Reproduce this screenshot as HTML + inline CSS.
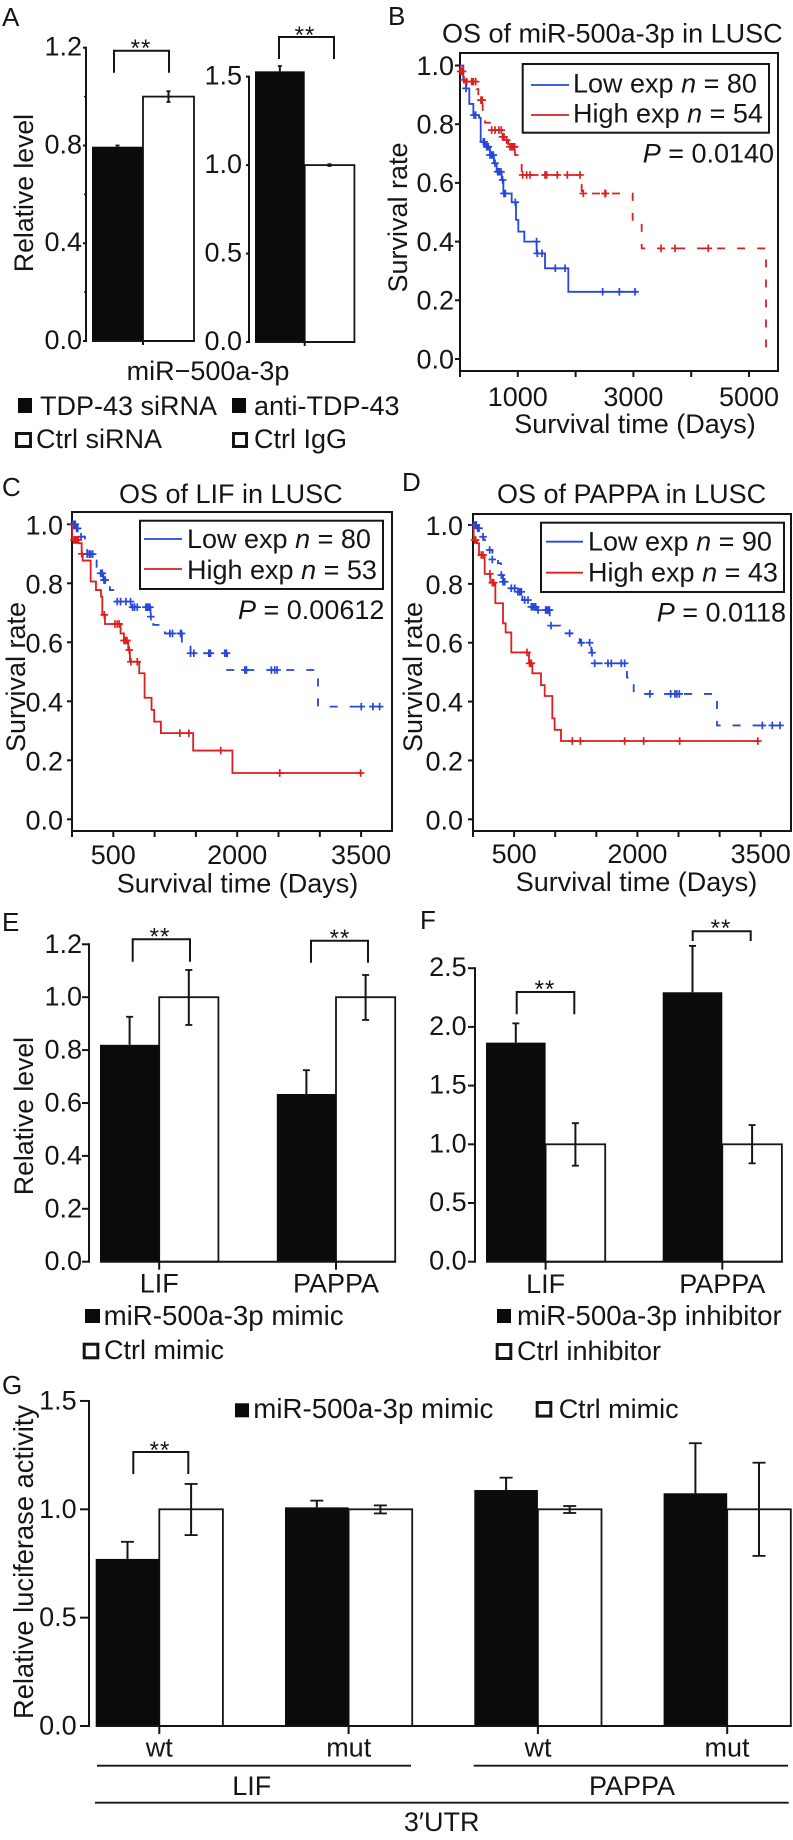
<!DOCTYPE html>
<html lang="en">
<head>
<meta charset="utf-8">
<title>Multi-panel figure: miR-500a-3p, LIF and PAPPA in LUSC</title>
<style>
html,body{margin:0;padding:0;background:#fff}
svg{display:block;font-family:"Liberation Sans",Arial,sans-serif;fill:#151515}
text{font-size:27px}
.lab{font-size:26px}
.wide{font-size:27.7px}
.big{font-size:27.3px}
</style>
</head>
<body>
<svg id="fig" xmlns="http://www.w3.org/2000/svg" width="793" height="1840" viewBox="0 0 793 1840">
<rect x="0" y="0" width="793" height="1840" fill="#fff"/>

<g>
<text class="lab" x="2" y="26">A</text>
<text class="lab" x="388" y="25">B</text>
<text class="lab" x="2" y="496">C</text>
<text class="lab" x="402" y="491">D</text>
<text class="lab" x="2" y="931">E</text>
<text class="lab" x="420" y="929">F</text>
<text class="lab" x="2" y="1394">G</text>
</g>

<g id="panelA">
<text transform="translate(33,193) rotate(-90)" text-anchor="middle" style="font-size:26.6px">Relative level</text>
<text x="208" y="380" text-anchor="middle">miR−500a-3p</text>
<rect x="18" y="398" width="14" height="15" fill="#0a0c0b"/>
<text x="40" y="415">TDP-43 siRNA</text>
<rect x="16.5" y="433.5" width="14" height="13" fill="#fff" stroke="#151515" stroke-width="3"/>
<text x="36" y="448">Ctrl siRNA</text>
<rect x="232" y="398" width="14" height="15" fill="#0a0c0b"/>
<text x="254" y="415">anti-TDP-43</text>
<rect x="233.5" y="433.5" width="13" height="13" fill="#fff" stroke="#151515" stroke-width="3"/>
<text x="254" y="448">Ctrl IgG</text>
</g>

<g id="panelB">
<text x="442" y="42.7">OS of miR-500a-3p in LUSC</text>
<text transform="translate(407,217.5) rotate(-90)" text-anchor="middle">Survival rate</text>
<text x="635" y="433" text-anchor="middle">Survival time (Days)</text>
</g>

<g id="panelC">
<text x="119" y="503">OS of LIF in LUSC</text>
<text transform="translate(25,677) rotate(-90)" text-anchor="middle">Survival rate</text>
<text x="237.5" y="892.7" text-anchor="middle">Survival time (Days)</text>
</g>

<g id="panelD">
<text x="497" y="503">OS of PAPPA in LUSC</text>
<text transform="translate(422,677) rotate(-90)" text-anchor="middle">Survival rate</text>
<text x="636.5" y="891" text-anchor="middle">Survival time (Days)</text>
</g>

<g id="panelE">
<text transform="translate(33,1116) rotate(-90)" text-anchor="middle" style="font-size:26.6px">Relative level</text>
<rect x="85" y="1309" width="15" height="14" fill="#0a0c0b"/>
<text class="wide" x="103.6" y="1325">miR-500a-3p mimic</text>
<rect x="84.2" y="1344.2" width="13.6" height="13.6" fill="#fff" stroke="#151515" stroke-width="3"/>
<text x="104" y="1359">Ctrl mimic</text>
</g>

<g id="panelF">
<rect x="497" y="1309" width="14" height="14" fill="#0a0c0b"/>
<text class="wide" x="517" y="1325">miR-500a-3p inhibitor</text>
<rect x="497.2" y="1344.5" width="13.6" height="14" fill="#fff" stroke="#151515" stroke-width="3"/>
<text x="517" y="1360">Ctrl inhibitor</text>
</g>

<g id="panelG">
<text class="big" transform="translate(33,1562) rotate(-90)" text-anchor="middle">Relative luciferase activity</text>
<rect x="235" y="1403.3" width="14" height="14" fill="#0a0c0b"/>
<text class="wide" x="253.3" y="1418">miR-500a-3p mimic</text>
<rect x="537.2" y="1402.5" width="13.6" height="13.6" fill="#fff" stroke="#151515" stroke-width="3"/>
<text x="558.7" y="1418">Ctrl mimic</text>
<text x="159.3" y="1756.7" text-anchor="middle">wt</text>
<text x="348.7" y="1756.7" text-anchor="middle">mut</text>
<text x="538" y="1756.7" text-anchor="middle">wt</text>
<text x="727" y="1756.7" text-anchor="middle">mut</text>
<line x1="97" y1="1765.7" x2="411" y2="1765.7" stroke="#151515" stroke-width="1.8"/>
<line x1="473.7" y1="1765.7" x2="788" y2="1765.7" stroke="#151515" stroke-width="1.8"/>
<text x="251.7" y="1795" text-anchor="middle">LIF</text>
<text x="632" y="1795" text-anchor="middle">PAPPA</text>
<line x1="95" y1="1802.7" x2="788.7" y2="1802.7" stroke="#151515" stroke-width="1.8"/>
<text x="441.7" y="1831" text-anchor="middle">3′UTR</text>
</g>

<g>
<text x="573" y="92.7">Low exp <tspan font-style="italic">n</tspan> = 80</text>
<text x="573" y="122.7">High exp <tspan font-style="italic">n</tspan> = 54</text>
<text x="642.7" y="162.7"><tspan font-style="italic">P</tspan> = 0.0140</text>
<text x="187" y="548">Low exp <tspan font-style="italic">n</tspan> = 80</text>
<text x="187" y="579">High exp <tspan font-style="italic">n</tspan> = 53</text>
<text x="238" y="619"><tspan font-style="italic">P</tspan> = 0.00612</text>
<text x="588" y="550.7">Low exp <tspan font-style="italic">n</tspan> = 90</text>
<text x="588" y="581.7">High exp <tspan font-style="italic">n</tspan> = 43</text>
<text x="656.7" y="621.7"><tspan font-style="italic">P</tspan> = 0.0118</text>
</g>
</svg>

<script>
// ---- Panel A data ----
const aLeftTicks = [0, 0.4, 0.8, 1.2];
const aLeftMinor = [0.2, 0.6, 1.0];
const aLeftTickLabels = ['0.0', '0.4', '0.8', '1.2'];
const aLeftBlack = [0.795];
const aLeftBlackTop = [0.8];
const aLeftWhite = [1.0];
const aLeftWhiteTop = [1.022];
const aLeftWhiteLow = [0.978];
const aRightTicks = [0, 0.5, 1.0, 1.5];
const aRightTickLabels = ['0.0', '0.5', '1.0', '1.5'];
const aRightBlack = [1.53];
const aRightBlackTop = [1.56];
const aRightWhite = [1.0];
const aRightWhiteTop = [1.005];
const aRightWhiteLow = [0.995];

// ---- Panel B data ----
const bLowDays = [58, 104, 161, 231, 329, 358, 433, 519, 588, 634, 721, 750, 894, 969, 1009, 1113, 1326, 1471, 1874, 3085];
const bLowSurv = [0.951, 0.922, 0.869, 0.831, 0.822, 0.74, 0.723, 0.695, 0.667, 0.638, 0.61, 0.564, 0.534, 0.474, 0.434, 0.40, 0.36, 0.309, 0.229, 0.229];
const bLowCensor = [104, 242, 271, 404, 421, 461, 490, 519, 548, 577, 606, 652, 680, 709, 738, 761, 784, 957, 1325, 1338, 1419, 1649, 1817, 2468, 2757, 3028];
const bHighDays = [10, 58, 115, 288, 317, 392, 433, 548, 721, 779, 836, 952, 1067, 2105, 2987, 3143, 5294];
const bHighSurv = [0.98, 0.951, 0.945, 0.92, 0.882, 0.843, 0.805, 0.78, 0.757, 0.746, 0.723, 0.695, 0.627, 0.564, 0.474, 0.377, 0.01];
const bHighCensor = [12, 29, 46, 69, 115, 202, 231, 271, 363, 385, 548, 606, 675, 715, 735, 761, 807, 865, 894, 911, 928, 946, 1084, 1153, 1211, 1471, 1499, 1684, 1857, 2076, 2134, 2509, 2520, 3478, 3720, 4296];
const bXTicks = [0, 1000, 2000, 3000, 4000, 5000];
const bXLabels = [1000, 3000, 5000];

// ---- Panel C data ----
const cLowDays = [48, 81, 157, 185, 298, 379, 459, 520, 721, 951, 983, 1124, 1330, 1435, 1878, 2978, 3744];
const cLowSurv = [0.986, 0.958, 0.913, 0.899, 0.834, 0.811, 0.777, 0.738, 0.719, 0.687, 0.659, 0.63, 0.597, 0.563, 0.506, 0.382, 0.382];
const cLowCensor = [8, 24, 40, 56, 69, 109, 185, 210, 226, 250, 347, 367, 387, 403, 548, 588, 653, 709, 733, 758, 790, 895, 911, 927, 943, 955, 1185, 1217, 1314, 1326, 1435, 1475, 1656, 1676, 1850, 1870, 2092, 2112, 2414, 2454, 2482, 3502, 3643, 3724];
const cHighDays = [3, 77, 117, 129, 226, 290, 351, 367, 399, 588, 629, 681, 701, 814, 879, 963, 995, 1076, 1467, 1942, 3502];
const cHighSurv = [0.947, 0.936, 0.90, 0.877, 0.806, 0.777, 0.755, 0.693, 0.662, 0.63, 0.606, 0.574, 0.534, 0.495, 0.412, 0.371, 0.331, 0.292, 0.233, 0.157, 0.157];
const cHighCensor = [24, 36, 48, 64, 76, 119, 391, 520, 548, 572, 630, 645, 665, 693, 713, 790, 1306, 1415, 1801, 2515, 3494];
const cXTicks = [0, 500, 1000, 1500, 2000, 2500, 3000, 3500];
const cXLabels = [500, 2000, 3500];

// ---- Panel D data ----
const dLowDays = [49, 81, 130, 203, 235, 304, 341, 365, 446, 547, 600, 689, 770, 933, 941, 1062, 1298, 1440, 1480, 1873, 1955, 2968, 3755];
const dLowSurv = [0.989, 0.96, 0.949, 0.915, 0.883, 0.87, 0.83, 0.807, 0.785, 0.773, 0.745, 0.722, 0.711, 0.689, 0.658, 0.632, 0.6, 0.566, 0.53, 0.482, 0.426, 0.319, 0.319];
const dLowCensor = [8, 24, 41, 57, 73, 122, 203, 235, 345, 365, 385, 466, 507, 547, 568, 588, 629, 669, 710, 722, 742, 762, 791, 884, 900, 916, 930, 949, 1176, 1318, 1419, 1448, 1480, 1642, 1683, 1804, 1845, 2153, 2405, 2457, 2480, 2510, 3520, 3641, 3735];
const dHighDays = [8, 49, 73, 142, 211, 272, 365, 397, 466, 681, 722, 827, 872, 965, 993, 1070, 3467];
const dHighSurv = [0.949, 0.938, 0.898, 0.834, 0.804, 0.734, 0.666, 0.635, 0.567, 0.53, 0.496, 0.456, 0.419, 0.343, 0.304, 0.266, 0.266];
const dHighCensor = [20, 32, 101, 122, 205, 235, 251, 657, 689, 710, 1208, 1306, 1845, 2076, 2514, 3465];
const dXTicks = [0, 500, 1000, 1500, 2000, 2500, 3000, 3500];
const dXLabels = [500, 2000, 3500];

const kmYTicks = [0, 0.2, 0.4, 0.6, 0.8, 1.0];
const kmYLabels = ['0.0', '0.2', '0.4', '0.6', '0.8', '1.0'];

// ---- Panel E data ----
const eCategories = ['LIF', 'PAPPA'];
const eTicks = [0, 0.2, 0.4, 0.6, 0.8, 1.0, 1.2];
const eTickLabels = ['0.0', '0.2', '0.4', '0.6', '0.8', '1.0', '1.2'];
const eBlack = [0.82, 0.634];
const eBlackTop = [0.926, 0.724];
const eWhite = [1.0, 1.0];
const eWhiteTop = [1.103, 1.084];
const eWhiteLow = [0.895, 0.914];

// ---- Panel F data ----
const fCategories = ['LIF', 'PAPPA'];
const fTicks = [0, 0.5, 1.0, 1.5, 2.0, 2.5];
const fTickLabels = ['0.0', '0.5', '1.0', '1.5', '2.0', '2.5'];
const fBlack = [1.866, 2.295];
const fBlackTop = [2.03, 2.69];
const fWhite = [1.0, 1.0];
const fWhiteTop = [1.18, 1.164];
const fWhiteLow = [0.818, 0.838];

// ---- Panel G data ----
const gTicks = [0, 0.5, 1.0, 1.5];
const gTickLabels = ['0.0', '0.5', '1.0', '1.5'];
const gBlack = [0.771, 1.009, 1.089, 1.074];
const gBlackTop = [0.85, 1.04, 1.146, 1.305];
const gWhite = [1.0, 1.0, 1.0, 1.0];
const gWhiteTop = [1.117, 1.018, 1.015, 1.215];
const gWhiteLow = [0.881, 0.981, 0.983, 0.785];

const NS = 'http://www.w3.org/2000/svg';
const INK = '#151515';
const BLUE = '#2647d8';
const RED = '#dc1f1f';
const BLACKFILL = '#0a0c0b';

function make(parent, tag, name, attrs) {
  const el = document.createElementNS(NS, tag);
  
  
  for (const k in attrs) el.setAttribute(k, attrs[k]);
  parent.appendChild(el);
  return el;
}
function line(parent, name, x1, y1, x2, y2, sw, col) {
  return make(parent, 'line', name, {x1: x1, y1: y1, x2: x2, y2: y2, stroke: col || INK, 'stroke-width': sw || 2, fill: 'none'});
}
function label(parent, name, x, y, str, anchor) {
  const t = make(parent, 'text', name, {x: x, y: y, 'text-anchor': anchor || 'middle'});
  t.textContent = str;
  return t;
}
function bracket(parent, name, x1, x2, top, legs, starX, starY) {
  make(parent, 'path', name, {d: 'M' + x1 + ' ' + legs + 'V' + top + 'H' + x2 + 'V' + legs, fill: 'none', stroke: INK, 'stroke-width': 2});
  const t = make(parent, 'text', name + '-stars', {x: starX, y: starY + 13, 'text-anchor': 'middle', style: 'font-size:24px;letter-spacing:1px'});
  t.textContent = '**';
}

function barPanel(o) {
  const g = document.getElementById(o.id);
  const yOf = function (v) { return o.y0 - v * o.unit; };
  const n = o.black.length;
  const left = function (i) { return o.x0 + i * o.pitch; };

  // white bars first, black bars on top
  for (let i = 0; i < n; i++) {
    const xw = left(i) + o.barW;
    make(g, 'rect', o.key + '-bar-white-' + i, {x: xw, y: yOf(o.white[i]), width: o.barW, height: o.y0 - yOf(o.white[i]), fill: '#fff', stroke: INK, 'stroke-width': 1.8});
    const cx = xw + o.barW / 2;
    line(g, o.key + '-err-white-' + i, cx, yOf(o.whiteTop[i]), cx, yOf(o.whiteLow[i]), 2);
    line(g, o.key + '-err-white-top-' + i, cx - o.cap, yOf(o.whiteTop[i]), cx + o.cap, yOf(o.whiteTop[i]), 1.8);
    line(g, o.key + '-err-white-low-' + i, cx - o.cap, yOf(o.whiteLow[i]), cx + o.cap, yOf(o.whiteLow[i]), 1.8);
  }
  for (let i = 0; i < n; i++) {
    const cx = left(i) + o.barW / 2;
    line(g, o.key + '-err-black-' + i, cx, yOf(o.blackTop[i]), cx, yOf(o.black[i]), 2);
    line(g, o.key + '-err-black-top-' + i, cx - o.cap, yOf(o.blackTop[i]), cx + o.cap, yOf(o.blackTop[i]), 1.8);
    make(g, 'rect', o.key + '-bar-black-' + i, {x: left(i), y: yOf(o.black[i]), width: o.barW, height: o.y0 - yOf(o.black[i]), fill: BLACKFILL});
  }
  // baseline
  line(g, o.key + '-baseline', o.x0, o.y0, left(n - 1) + 2 * o.barW + 0.9, o.y0, 2);
  // y axis
  line(g, o.key + '-y-axis', o.axisX, yOf(o.ticks[o.ticks.length - 1]) - 1, o.axisX, o.y0 + 1, 2);
  o.ticks.forEach(function (t, i) {
    line(g, o.key + '-y-tick-' + i, o.axisX - o.tickLen, yOf(t), o.axisX, yOf(t), 2);
    label(g, o.key + '-y-label-' + i, o.labelX, yOf(t) + o.dy, o.tickLabels[i], 'end');
  });
  (o.minor || []).forEach(function (t, i) {
    line(g, o.key + '-y-minor-' + i, o.axisX - 2, yOf(t), o.axisX, yOf(t), 1.5);
  });
  // category ticks
  for (let i = 0; i < n; i++) {
    const cx = left(i) + o.barW;
    line(g, o.key + '-x-tick-' + i, cx, o.y0, cx, o.y0 + o.xTickLen, 2);
    if (o.categories) label(g, o.key + '-x-label-' + i, cx, o.catY, o.categories[i]);
  }
}

function surv(days, values, d) {
  let s = 1;
  for (let i = 0; i < days.length; i++) { if (days[i] <= d) s = values[i]; }
  return s;
}
function kmCurve(g, name, days, values, censor, x, y, col, dash) {
  let d = 'M' + x(0) + ' ' + y(1);
  for (let i = 0; i < days.length; i++) d += 'H' + x(days[i]) + 'V' + y(values[i]);
  const attrs = {d: d, fill: 'none', stroke: col, 'stroke-width': 1.8};
  if (dash) attrs['stroke-dasharray'] = dash;
  make(g, 'path', name + '-curve', attrs);
  censor.forEach(function (c, i) {
    const px = x(c), py = y(surv(days, values, c));
    line(g, name + '-censor-v-' + i, px, py - 3.8, px, py + 3.8, 1.7, col);
    line(g, name + '-censor-h-' + i, px - 3.8, py, px + 3.8, py, 1.7, col);
  });
}
function kmPanel(o) {
  const g = document.getElementById(o.id);
  const x = function (d) { return o.left + d * o.scaleX; };
  const y = function (v) { return o.y0 - v * o.unit; };
  make(g, 'rect', o.key + '-frame', {x: o.left, y: o.top, width: o.right - o.left, height: o.bottom - o.top, fill: 'none', stroke: INK, 'stroke-width': 2});
  kmYTicks.forEach(function (t, i) {
    line(g, o.key + '-y-tick-' + i, o.left - 5, y(t), o.left, y(t), 2);
    label(g, o.key + '-y-label-' + i, o.labelX, y(t) + o.dy, kmYLabels[i], 'end');
  });
  o.xTicks.forEach(function (t, i) {
    line(g, o.key + '-x-tick-' + i, x(t), o.bottom, x(t), o.bottom + 6, 2);
  });
  o.xLabels.forEach(function (t, i) {
    label(g, o.key + '-x-label-' + i, x(t), o.xLabelY, String(t));
  });
  kmCurve(g, o.key + '-low', o.lowDays, o.lowSurv, o.lowCensor, x, y, BLUE, o.lowDash);
  kmCurve(g, o.key + '-high', o.highDays, o.highSurv, o.highCensor, x, y, RED, o.highDash);
  const b = o.legend;
  make(g, 'rect', o.key + '-legend-box', {x: b.x1, y: b.y1, width: b.x2 - b.x1, height: b.y2 - b.y1, fill: 'none', stroke: INK, 'stroke-width': 2});
  line(g, o.key + '-legend-line-low', b.lx1, b.ly1, b.lx2, b.ly1, 1.8, BLUE);
  line(g, o.key + '-legend-line-high', b.lx1, b.ly2, b.lx2, b.ly2, 1.8, RED);
}

barPanel({id: 'panelA', key: 'a-left', x0: 92, barW: 51, pitch: 0, y0: 341, unit: 244.4, axisX: 86, tickLen: 3, xTickLen: 4, labelX: 82, dy: 8, cap: 2,
  ticks: aLeftTicks, tickLabels: aLeftTickLabels, minor: aLeftMinor, black: aLeftBlack, blackTop: aLeftBlackTop, white: aLeftWhite, whiteTop: aLeftWhiteTop, whiteLow: aLeftWhiteLow});
barPanel({id: 'panelA', key: 'a-right', x0: 255, barW: 49.7, pitch: 0, y0: 342, unit: 176.9, axisX: 249, tickLen: 3, xTickLen: 4, labelX: 242, dy: 8, cap: 2,
  ticks: aRightTicks, tickLabels: aRightTickLabels, black: aRightBlack, blackTop: aRightBlackTop, white: aRightWhite, whiteTop: aRightWhiteTop, whiteLow: aRightWhiteLow});
const gA = document.getElementById('panelA');
bracket(gA, 'a-left-significance', 114, 169, 50.7, 72.7, 141, 43);
bracket(gA, 'a-right-significance', 279, 334, 37, 59, 305, 30);

kmPanel({id: 'panelB', key: 'b', left: 460, right: 778, top: 53, bottom: 371, y0: 359, unit: 293.5, scaleX: 0.0578, labelX: 454, dy: 9.3, xLabelY: 406,
  xTicks: bXTicks, xLabels: bXLabels, lowDays: bLowDays, lowSurv: bLowSurv, lowCensor: bLowCensor, highDays: bHighDays, highSurv: bHighSurv, highCensor: bHighCensor, highDash: '8 12',
  legend: {x1: 522.7, x2: 769, y1: 64, y2: 132.7, lx1: 531, lx2: 569, ly1: 85, ly2: 115}});
kmPanel({id: 'panelC', key: 'c', left: 72, right: 392, top: 512, bottom: 831, y0: 819.3, unit: 295, scaleX: 0.0826, labelX: 63, dy: 10, xLabelY: 864,
  xTicks: cXTicks, xLabels: cXLabels, lowDays: cLowDays, lowSurv: cLowSurv, lowCensor: cLowCensor, highDays: cHighDays, highSurv: cHighSurv, highCensor: cHighCensor, lowDash: '8 12',
  legend: {x1: 140, x2: 383, y1: 520.7, y2: 589, lx1: 144, lx2: 182, ly1: 539, ly2: 569}});
kmPanel({id: 'panelD', key: 'd', left: 473, right: 791, top: 514, bottom: 831, y0: 819.3, unit: 294.3, scaleX: 0.0822, labelX: 463, dy: 10, xLabelY: 863,
  xTicks: dXTicks, xLabels: dXLabels, lowDays: dLowDays, lowSurv: dLowSurv, lowCensor: dLowCensor, highDays: dHighDays, highSurv: dHighSurv, highCensor: dHighCensor, lowDash: '8 12',
  legend: {x1: 541, x2: 784, y1: 522.7, y2: 592, lx1: 546, lx2: 583, ly1: 541.7, ly2: 572.7}});

barPanel({id: 'panelE', key: 'e', x0: 100, barW: 59.2, pitch: 176.8, y0: 1261.7, unit: 264.5, axisX: 89, tickLen: 7, xTickLen: 8, labelX: 82, dy: 8.5, cap: 3.5, catY: 1292.7,
  categories: eCategories, ticks: eTicks, tickLabels: eTickLabels, black: eBlack, blackTop: eBlackTop, white: eWhite, whiteTop: eWhiteTop, whiteLow: eWhiteLow});
const gE = document.getElementById('panelE');
bracket(gE, 'e-lif-significance', 132.7, 190, 939.3, 961.7, 160, 931.7);
bracket(gE, 'e-pappa-significance', 311, 368, 940.7, 962.7, 340, 933);

barPanel({id: 'panelF', key: 'f', x0: 486, barW: 59.6, pitch: 176.7, y0: 1261.7, unit: 117.4, axisX: 475, tickLen: 7, xTickLen: 8, labelX: 466.7, dy: 8, cap: 3.5, catY: 1293,
  categories: fCategories, ticks: fTicks, tickLabels: fTickLabels, black: fBlack, blackTop: fBlackTop, white: fWhite, whiteTop: fWhiteTop, whiteLow: fWhiteLow});
const gF = document.getElementById('panelF');
bracket(gF, 'f-lif-significance', 516.7, 574.3, 992, 1014.3, 545, 984);
bracket(gF, 'f-pappa-significance', 692.7, 750.7, 931.3, 941, 721, 923);

barPanel({id: 'panelG', key: 'g', x0: 95.7, barW: 63.6, pitch: 189.3, y0: 1726, unit: 216.7, axisX: 89, tickLen: 9, xTickLen: 8, labelX: 76.7, dy: 8.5, cap: 6.5,
  ticks: gTicks, tickLabels: gTickLabels, black: gBlack, blackTop: gBlackTop, white: gWhite, whiteTop: gWhiteTop, whiteLow: gWhiteLow});
const gG = document.getElementById('panelG');
bracket(gG, 'g-lif-wt-significance', 133.3, 188.3, 1452, 1474, 160, 1445);
</script>
</body>
</html>
